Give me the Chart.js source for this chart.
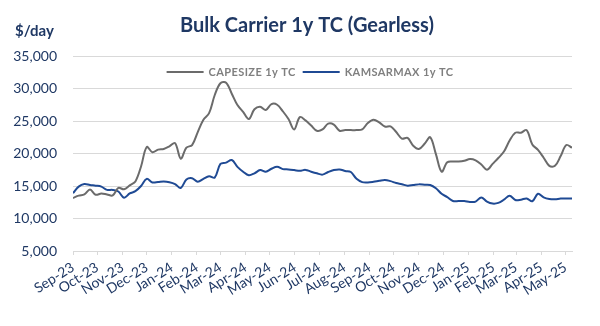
<!DOCTYPE html>
<html>
<head>
<meta charset="utf-8">
<script src="https://cdn.jsdelivr.net/npm/chart.js@4.4.1/dist/chart.umd.min.js"></script>
<style>
  html, body { margin: 0; padding: 0; background: #fff; }
</style>
</head>
<body>
<canvas id="tcChart" width="600" height="326"></canvas>
<script>
// weekly 1-year time charter assessments, first week = 1 Sep 2023
const firstWeek = Date.UTC(2023, 8, 1);
const monthLabels = ['Sep-23', 'Oct-23', 'Nov-23', 'Dec-23', 'Jan-24', 'Feb-24', 'Mar-24',
  'Apr-24', 'May-24', 'Jun-24', 'Jul-24', 'Aug-24', 'Sep-24', 'Oct-24', 'Nov-24', 'Dec-24',
  'Jan-25', 'Feb-25', 'Mar-25', 'Apr-25', 'May-25'];
const yTicks = [5000, 10000, 15000, 20000, 25000, 30000, 35000];

const capesize = [
  13150, 13520, 13700, 14450, 13650, 13850, 13700, 13550, 14700, 14500,
  15100, 15700, 18000, 21000, 20200, 20600, 20700, 21100, 21600, 19200,
  20900, 21300, 23300, 25200, 26200, 29000, 30800, 30900, 29200, 27450,
  26400, 25300, 26800, 27200, 26700, 27600, 27500, 26500, 25300, 23700,
  25600, 25100, 24300, 23500, 23700, 24600, 24450, 23500, 23600, 23600,
  23600, 23700, 24700, 25200, 24800, 24150, 24170, 23300, 22300, 22400,
  21200, 20700, 21500, 22500, 19900, 17200, 18650, 18760, 18760, 18870,
  19150, 18950, 18300, 17500, 18400, 19300, 20300, 22000, 23200, 23200,
  23600, 21400, 20550, 19350, 18100, 18100, 19600, 21300, 20900];

const kamsarmax = [
  13900, 14900, 15300, 15150, 15050, 14900, 14400, 14400, 14150, 13200,
  13850, 14200, 15000, 16100, 15550, 15600, 15680, 15580, 15300, 14700,
  16000, 16200, 15650, 16100, 16500, 16300, 18400, 18600, 19000, 17950,
  17200, 16650, 16950, 17450, 17200, 17650, 17950, 17600, 17550, 17450,
  17330, 17480, 17200, 16950, 16750, 17150, 17450, 17550, 17320, 17150,
  16100, 15600, 15550, 15650, 15800, 15930, 15750, 15450, 15280, 15050,
  15150, 15250, 15200, 15150, 14650, 13800, 13300, 12700, 12680, 12680,
  12550, 12600, 13250, 12600, 12300, 12400, 12900, 13500, 12850, 12900,
  13080, 12650, 13800, 13250, 13000, 12950, 13080, 13080, 13080];

const navy = '#1F3864';
const gridGrey = '#D9D9D9';

// x is days since the first week, so month ticks land on their real dates
const monthDays = monthLabels.map((m, i) => (Date.UTC(2023, 8 + i, 1) - firstWeek) / 86400000);
const weekly = values => values.map((v, i) => ({ x: i * 7, y: v }));
const lastDay = (capesize.length - 1) * 7;

const headerText = {
  id: 'headerText',
  afterDraw(chart) {
    const ctx = chart.ctx;
    ctx.save();
    ctx.fillStyle = navy;
    ctx.textBaseline = 'middle';
    ctx.font = 'bold 20px Lato';
    ctx.textAlign = 'center';
    ctx.fillText('Bulk Carrier 1y TC (Gearless)', 307, 26);
    ctx.font = 'bold 15px Lato';
    ctx.textAlign = 'left';
    ctx.fillText('$/day', 15, 31);
    ctx.restore();
  }
};

// one-row legend sitting inside the plot, under the top gridline
const insideLegend = {
  id: 'insideLegend',
  afterDatasetsDraw(chart) {
    const ctx = chart.ctx;
    const lineLen = 37, gap = 5, itemGap = 7;
    const y = chart.chartArea.top + 16;
    ctx.save();
    ctx.font = 'bold 11px Lato';
    ctx.letterSpacing = '0.4px';
    ctx.textBaseline = 'middle';
    const items = chart.data.datasets.map(ds => ({
      text: ds.label, color: ds.borderColor, width: ds.borderWidth,
      tw: ctx.measureText(ds.label).width
    }));
    const total = items.reduce((s, it) => s + lineLen + gap + it.tw, 0) + itemGap * (items.length - 1);
    let x = 310 - total / 2;
    items.forEach(it => {
      ctx.strokeStyle = it.color;
      ctx.lineWidth = it.width;
      ctx.beginPath();
      ctx.moveTo(x, y);
      ctx.lineTo(x + lineLen, y);
      ctx.stroke();
      x += lineLen + gap;
      ctx.fillStyle = '#7F7F7F';
      ctx.fillText(it.text, x, y);
      x += it.tw + itemGap;
    });
    ctx.restore();
  }
};

new Chart(document.getElementById('tcChart'), {
  type: 'line',
  data: {
    datasets: [{
      label: 'CAPESIZE 1y TC',
      data: weekly(capesize),
      borderColor: '#6B6B6B',
      borderWidth: 2,
      pointRadius: 0,
      tension: 0.35
    }, {
      label: 'KAMSARMAX 1y TC',
      data: weekly(kamsarmax),
      borderColor: '#1F4A94',
      borderWidth: 2,
      pointRadius: 0,
      tension: 0.35
    }]
  },
  options: {
    responsive: false,
    animation: false,
    layout: { padding: { top: 56, right: 28, left: 0, bottom: 0 } },
    scales: {
      x: {
        type: 'linear',
        min: 0,
        max: lastDay,
        afterBuildTicks: s => { s.ticks = monthDays.map(v => ({ value: v })); },
        afterFit: s => { s.height = 75; },
        grid: { drawOnChartArea: false, color: gridGrey, tickLength: 4 },
        border: { color: gridGrey },
        ticks: {
          autoSkip: false,
          minRotation: 32,
          maxRotation: 32,
          padding: 4,
          color: navy,
          font: { family: 'Lato', size: 14 },
          callback: (v, i) => monthLabels[i]
        }
      },
      y: {
        min: 5000,
        max: 35000,
        afterBuildTicks: s => { s.ticks = yTicks.map(v => ({ value: v })); },
        afterFit: s => { s.width = 73; },
        grid: { color: gridGrey, drawTicks: false },
        border: { display: false },
        ticks: {
          padding: 16,
          color: navy,
          font: { family: 'Lato', size: 14 },
          callback: v => v.toLocaleString('en-US')
        }
      }
    },
    plugins: {
      legend: { display: false },
      tooltip: { enabled: false }
    }
  },
  plugins: [headerText, insideLegend]
});
</script>
</body>
</html>
